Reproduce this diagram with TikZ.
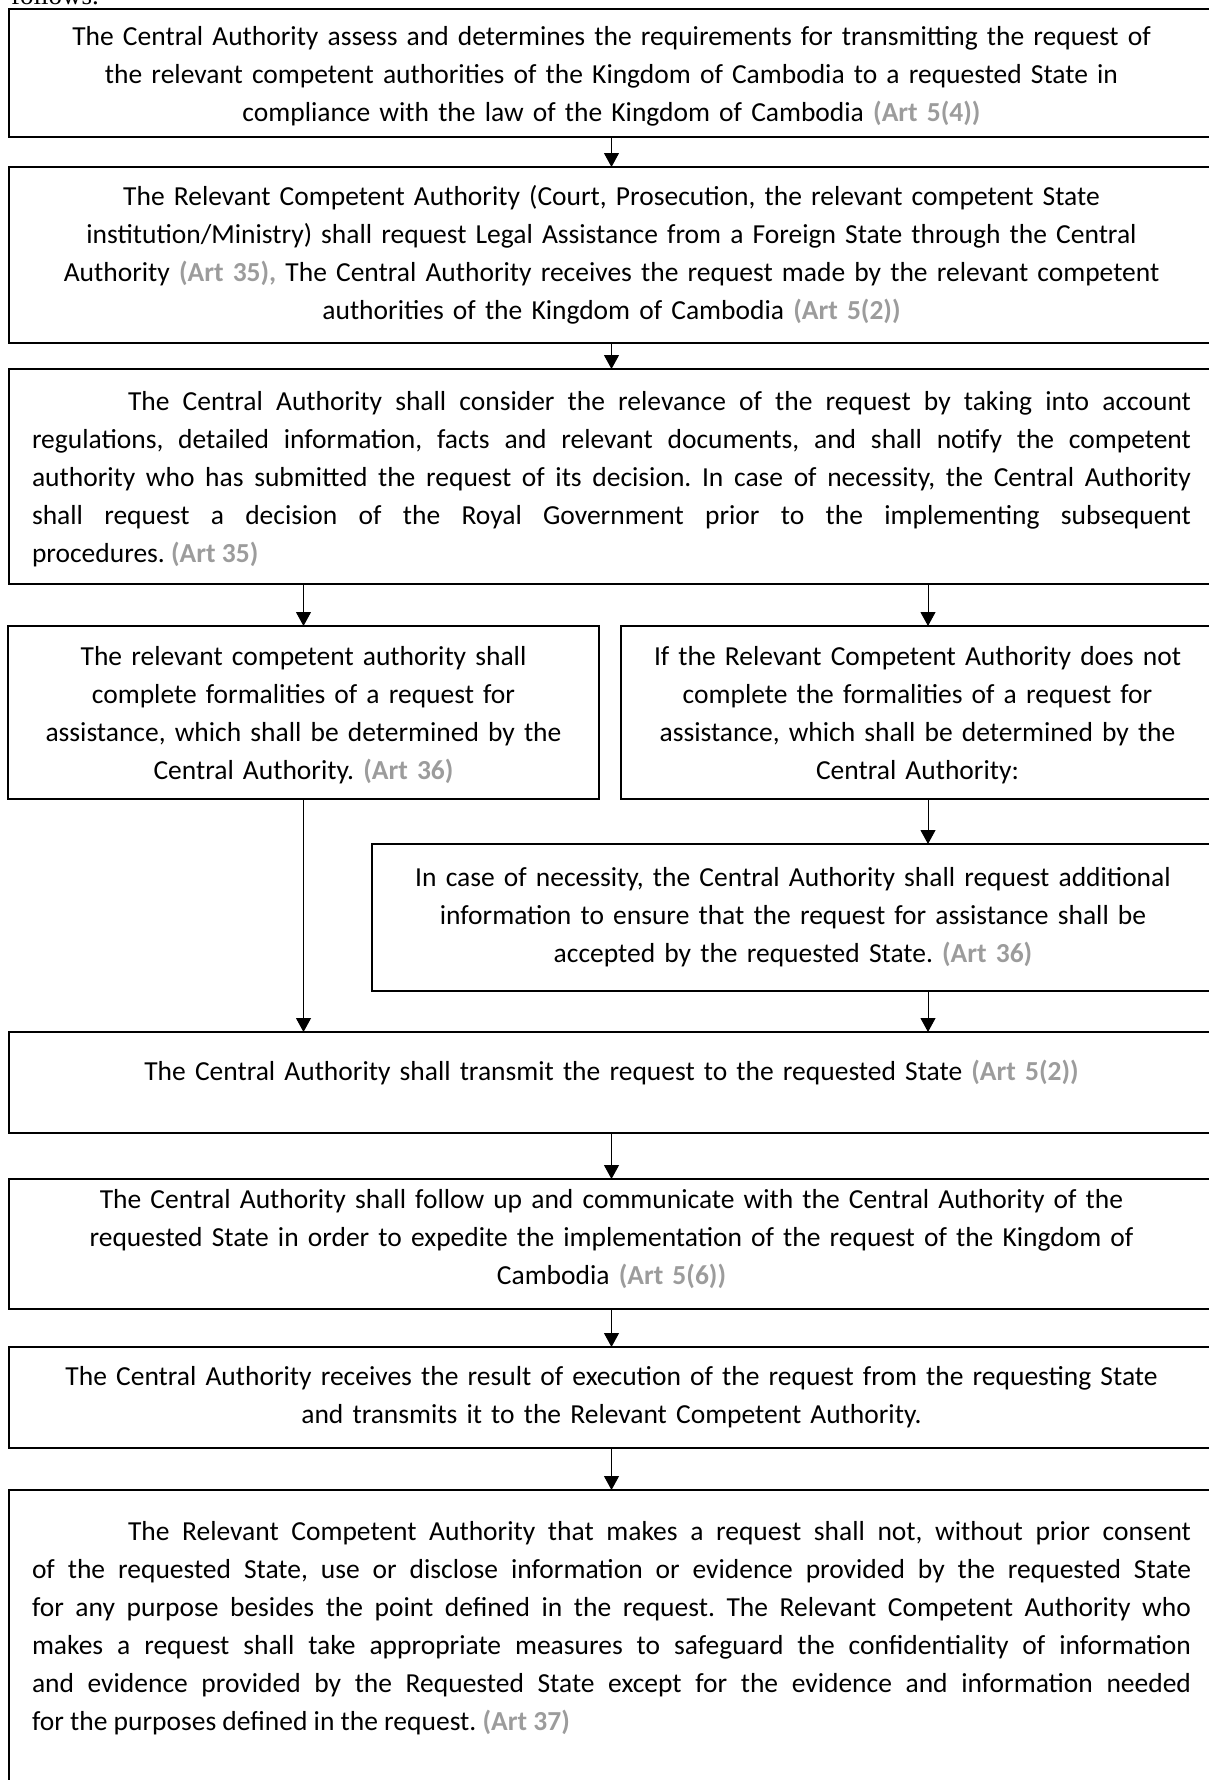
\documentclass[tikz,border=0pt]{standalone}
\usepackage{fontspec}
\setmainfont{Carlito}
\newfontfamily\leadfont{Liberation Serif}
\usetikzlibrary{arrows.meta}

\definecolor{artgray}{HTML}{9C9C9C}
\newcommand{\art}[1]{\textcolor{artgray}{\textbf{#1}}}

\begin{document}
\frenchspacing
\begin{tikzpicture}[x=1pt, y=-1pt, >={Triangle[width=15pt,length=14pt]},
  flowbox/.style={draw, line width=1.4pt, anchor=north west, outer sep=0pt,
    align=center, inner xsep=10pt, inner ysep=0pt,
    font=\fontsize{27.5}{38}\selectfont},
  flowjust/.style={flowbox, align=justify, inner xsep=23pt},
  flowarrow/.style={->, line width=1pt}]
  \useasboundingbox (0,0) rectangle (1208,1780);

  % cut-off line of the page above
  \node[anchor=base west, inner sep=0pt, font=\leadfont\fontsize{27}{30}\selectfont] (lead) at (11,5) {follows.};

  \node[flowbox, minimum width=1205pt, minimum height=128pt, text width=1185pt,
    text height=27pt, text depth=83pt] (b1) at (9,9)
    {The Central Authority assess and determines the requirements for transmitting the request of\\
     the relevant competent authorities of the Kingdom of Cambodia to a requested State in\\
     compliance with the law of the Kingdom of Cambodia \art{(Art 5(4))}};

  \node[flowbox, minimum width=1205pt, minimum height=176pt, text width=1185pt] (b2) at (9,167)
    {The Relevant Competent Authority (Court, Prosecution, the relevant competent State\\
     institution/Ministry) shall request Legal Assistance from a Foreign State through the Central\\
     Authority \art{(Art 35),} The Central Authority receives the request made by the relevant competent\\
     authorities of the Kingdom of Cambodia \art{(Art 5(2))}};

  \node[flowjust, minimum width=1205pt, minimum height=215pt, text width=1159pt,
    text height=27pt, text depth=159pt] (b3) at (9,369)
    {\hspace*{96pt}The Central Authority shall consider the relevance of the request by taking into account\linebreak
     regulations, detailed information, facts and relevant documents, and shall notify the competent\linebreak
     authority who has submitted the request of its decision. In case of necessity, the Central Authority\linebreak
     shall request a decision of the Royal Government prior to the implementing subsequent\linebreak
     procedures. \art{(Art 35)}};

  % two branches
  \node[flowbox, minimum width=591pt, minimum height=173pt, text width=571pt,
    text height=26pt, text depth=121pt] (b4a) at (8,626)
    {The relevant competent authority shall\\
     complete formalities of a request for\\
     assistance, which shall be determined by the\\
     Central Authority. \art{(Art 36)}};

  \node[flowbox, minimum width=593pt, minimum height=173pt, text width=573pt,
    text height=26pt, text depth=121pt] (b4b) at (621,626)
    {If the Relevant Competent Authority does not\\
     complete the formalities of a request for\\
     assistance, which shall be determined by the\\
     Central Authority:};

  \node[flowbox, minimum width=842pt, minimum height=147pt, text width=822pt] (b5) at (372,844)
    {In case of necessity, the Central Authority shall request additional\\
     information to ensure that the request for assistance shall be\\
     accepted by the requested State. \art{(Art 36)}};

  \node[flowbox, minimum width=1205pt, minimum height=101pt, text width=1185pt,
    text height=20pt, text depth=25pt] (b6) at (9,1032)
    {The Central Authority shall transmit the request to the requested State \art{(Art 5(2))}};

  \node[flowbox, minimum width=1205pt, minimum height=130pt, text width=1185pt,
    text height=20pt, text depth=92pt] (b7) at (9,1179)
    {The Central Authority shall follow up and communicate with the Central Authority of the\\
     requested State in order to expedite the implementation of the request of the Kingdom of\\
     Cambodia \art{(Art 5(6))}};

  \node[flowbox, minimum width=1205pt, minimum height=101pt, text width=1185pt] (b8) at (9,1347)
    {The Central Authority receives the result of execution of the request from the requesting State\\
     and transmits it to the Relevant Competent Authority.};

  \node[flowjust, minimum width=1205pt, minimum height=310pt, text width=1159pt,
    text height=20pt, text depth=229pt] (b9) at (9,1490)
    {\hspace*{96pt}The Relevant Competent Authority that makes a request shall not, without prior consent\linebreak
     of the requested State, use or disclose information or evidence provided by the requested State\linebreak
     for any purpose besides the point defined in the request. The Relevant Competent Authority who\linebreak
     makes a request shall take appropriate measures to safeguard the confidentiality of information\linebreak
     and evidence provided by the Requested State except for the evidence and information needed\linebreak
     for the purposes defined in the request. \art{(Art 37)}};

  \coordinate (rcol) at (928,0);

  \draw[flowarrow] (b1.south) -- (b2.north);
  \draw[flowarrow] (b2.south) -- (b3.north);
  \draw[flowarrow] (b3.south -| b4a.north) -- (b4a.north);
  \draw[flowarrow] (rcol |- b3.south) -- (rcol |- b4b.north);
  \draw[flowarrow] (rcol |- b4b.south) -- (rcol |- b5.north);
  \draw[flowarrow] (b4a.south) -- (b4a.south |- b6.north);
  \draw[flowarrow] (rcol |- b5.south) -- (rcol |- b6.north);
  \draw[flowarrow] (b6.south) -- (b7.north);
  \draw[flowarrow] (b7.south) -- (b8.north);
  \draw[flowarrow] (b8.south) -- (b9.north);
\end{tikzpicture}
\end{document}
